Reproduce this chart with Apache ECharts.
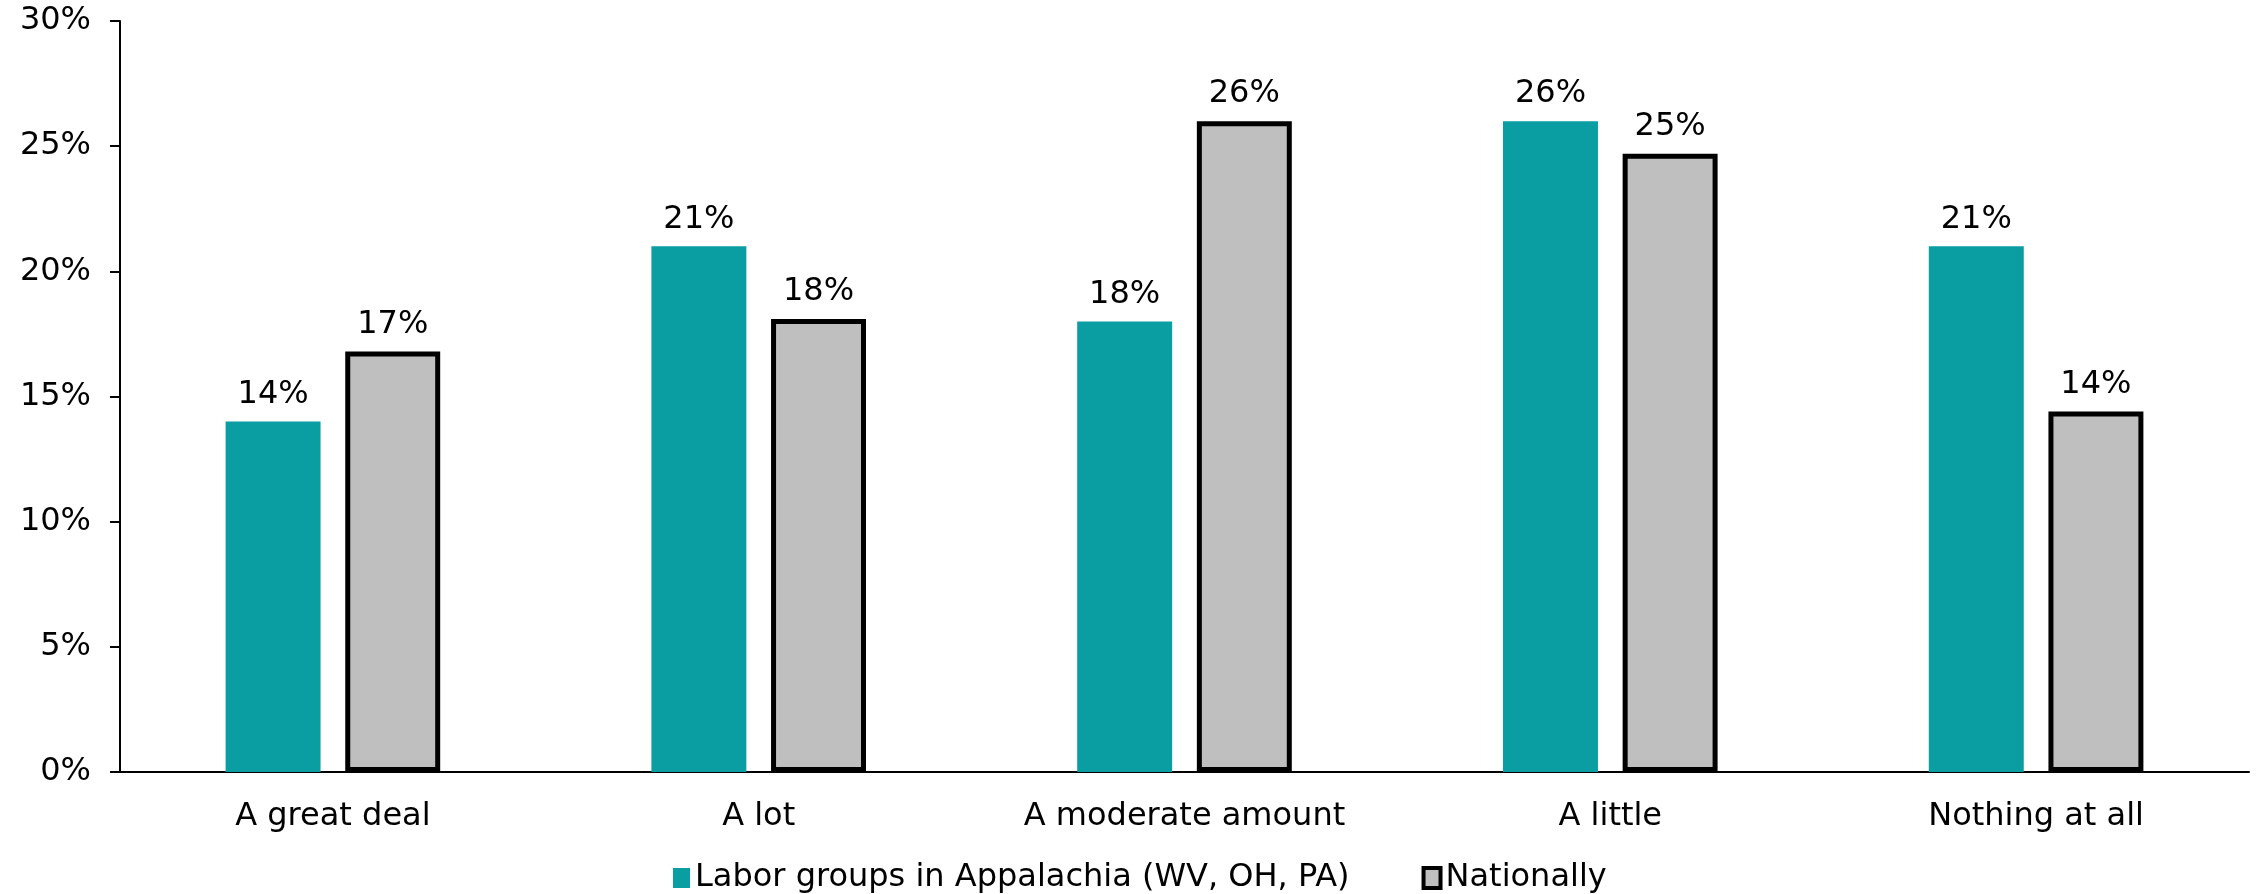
<!DOCTYPE html>
<html>
<head>
<meta charset="utf-8">
<title>Labor groups in Appalachia vs. nationally</title>
<script src="https://cdn.jsdelivr.net/npm/echarts@6/dist/echarts.min.js"></script>
<style>
  html, body { margin: 0; padding: 0; background: #ffffff; }
  #chart { width: 2257px; height: 894px; }
</style>
</head>
<body>
<div id="chart"></div>
<script>
// Response categories along the x axis
const categories = ['A great deal', 'A lot', 'A moderate amount', 'A little', 'Nothing at all'];

// Share of respondents (%) per category
const appalachiaName = 'Labor groups in Appalachia (WV, OH, PA)';
const appalachiaValues = [14, 21, 18, 26, 21];

const nationalName = 'Nationally';
const nationalValues = [16.8, 18.1, 26, 24.7, 14.4];

// Value axis settings (percent)
const yMin = 0;
const yMax = 30;
const yStep = 5;

const FONT = 'DejaVu Sans, Verdana, sans-serif';
const FONT_SIZE = 32;
const TEAL = '#0A9DA2';
const GREY = '#BFBFBF';

const chart = echarts.init(document.getElementById('chart'), null, { renderer: 'canvas' });

const pctLabel = {
  show: true,
  position: 'top',
  distance: 11,
  color: '#000',
  fontFamily: FONT,
  fontSize: FONT_SIZE,
  formatter: p => Math.round(p.value) + '%'
};

chart.setOption({
  animation: false,
  backgroundColor: '#ffffff',
  textStyle: { fontFamily: FONT },
  grid: { left: 120, right: 8, top: 21, bottom: 122, containLabel: false },
  legend: {
    left: 668,
    top: 857,
    itemWidth: 17,
    itemHeight: 20,
    itemGap: 72,
    icon: 'rect',
    textStyle: { fontFamily: FONT, fontSize: FONT_SIZE, color: '#000' },
    data: [
      { name: appalachiaName, itemStyle: { color: TEAL, borderWidth: 0 } },
      { name: nationalName, itemStyle: { color: GREY, borderColor: '#000', borderWidth: 4 } }
    ]
  },
  xAxis: {
    type: 'category',
    data: categories,
    axisLine: { show: true, lineStyle: { color: '#000', width: 2 } },
    axisTick: { show: false },
    axisLabel: { color: '#000', fontFamily: FONT, fontSize: FONT_SIZE, margin: 29 }
  },
  yAxis: {
    type: 'value',
    min: yMin,
    max: yMax,
    interval: yStep,
    splitLine: { show: false },
    axisLine: { show: true, lineStyle: { color: '#000', width: 2 } },
    axisTick: { show: true, inside: false, length: 10, lineStyle: { color: '#000', width: 2 } },
    axisLabel: {
      color: '#000', fontFamily: FONT, fontSize: FONT_SIZE, margin: 29,
      padding: [6, 0, 0, 0], formatter: '{value}%'
    }
  },
  series: [
    {
      name: appalachiaName,
      type: 'bar',
      data: appalachiaValues,
      barWidth: '22.3%',
      barGap: '26%',
      itemStyle: { color: TEAL },
      label: pctLabel
    },
    {
      name: nationalName,
      type: 'bar',
      data: nationalValues,
      barWidth: '22.3%',
      itemStyle: { color: GREY, borderColor: '#000', borderWidth: 5 },
      label: pctLabel
    }
  ]
});
</script>
</body>
</html>
